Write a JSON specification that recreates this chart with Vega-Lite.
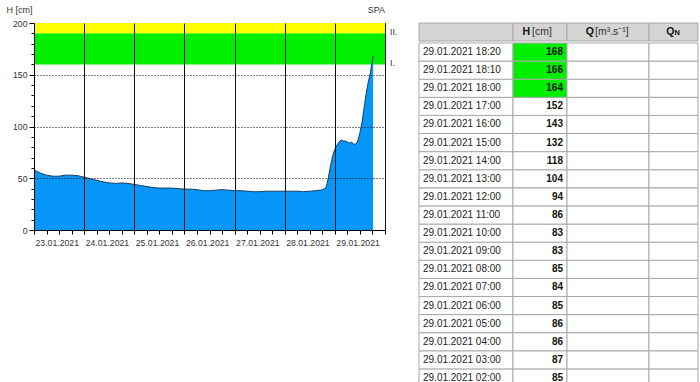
{
  "$schema": "https://vega.github.io/schema/vega-lite/v6.json",
  "padding": {"left": 5, "top": 4, "right": 0, "bottom": 0},
  "background": "#ffffff",
  "config": {"font": "Liberation Sans", "view": {"stroke": null}},
  "datasets": {
    "levels": [
      {"level": "I.", "h": 160, "h2": 190},
      {"level": "II.", "h": 190, "h2": 200}
    ],
    "series": [
      {"t": "2021-01-23T00:00", "h": 58},
      {"t": "2021-01-23T03:00", "h": 55},
      {"t": "2021-01-23T06:00", "h": 53},
      {"t": "2021-01-23T09:00", "h": 52},
      {"t": "2021-01-23T12:00", "h": 52},
      {"t": "2021-01-23T15:00", "h": 53},
      {"t": "2021-01-23T18:00", "h": 53},
      {"t": "2021-01-23T21:00", "h": 52.5},
      {"t": "2021-01-24T00:00", "h": 51},
      {"t": "2021-01-24T03:00", "h": 49.5},
      {"t": "2021-01-24T06:00", "h": 48},
      {"t": "2021-01-24T09:00", "h": 46.5},
      {"t": "2021-01-24T12:00", "h": 45.5},
      {"t": "2021-01-24T15:00", "h": 45},
      {"t": "2021-01-24T18:00", "h": 45.5},
      {"t": "2021-01-24T21:00", "h": 45},
      {"t": "2021-01-25T00:00", "h": 44},
      {"t": "2021-01-25T03:00", "h": 43},
      {"t": "2021-01-25T06:00", "h": 42},
      {"t": "2021-01-25T09:00", "h": 41},
      {"t": "2021-01-25T12:00", "h": 40.5},
      {"t": "2021-01-25T15:00", "h": 40.5},
      {"t": "2021-01-25T18:00", "h": 40.5},
      {"t": "2021-01-25T21:00", "h": 40},
      {"t": "2021-01-26T00:00", "h": 39.5},
      {"t": "2021-01-26T03:00", "h": 39.5},
      {"t": "2021-01-26T06:00", "h": 39},
      {"t": "2021-01-26T09:00", "h": 38},
      {"t": "2021-01-26T12:00", "h": 38},
      {"t": "2021-01-26T15:00", "h": 38.5},
      {"t": "2021-01-26T18:00", "h": 39},
      {"t": "2021-01-26T21:00", "h": 38.5},
      {"t": "2021-01-27T00:00", "h": 38},
      {"t": "2021-01-27T03:00", "h": 38},
      {"t": "2021-01-27T06:00", "h": 37.5},
      {"t": "2021-01-27T09:00", "h": 37},
      {"t": "2021-01-27T12:00", "h": 37},
      {"t": "2021-01-27T15:00", "h": 37.5},
      {"t": "2021-01-27T18:00", "h": 37.5},
      {"t": "2021-01-27T21:00", "h": 37.5},
      {"t": "2021-01-28T00:00", "h": 37.5},
      {"t": "2021-01-28T03:00", "h": 37.5},
      {"t": "2021-01-28T06:00", "h": 37.5},
      {"t": "2021-01-28T09:00", "h": 37},
      {"t": "2021-01-28T12:00", "h": 37.5},
      {"t": "2021-01-28T15:00", "h": 38},
      {"t": "2021-01-28T17:00", "h": 38.5},
      {"t": "2021-01-28T18:00", "h": 39},
      {"t": "2021-01-28T19:00", "h": 40},
      {"t": "2021-01-28T20:00", "h": 42},
      {"t": "2021-01-28T21:00", "h": 52},
      {"t": "2021-01-28T22:00", "h": 63},
      {"t": "2021-01-28T23:00", "h": 72},
      {"t": "2021-01-29T00:00", "h": 78},
      {"t": "2021-01-29T01:00", "h": 82},
      {"t": "2021-01-29T02:00", "h": 85},
      {"t": "2021-01-29T03:00", "h": 87},
      {"t": "2021-01-29T04:00", "h": 86},
      {"t": "2021-01-29T05:00", "h": 86},
      {"t": "2021-01-29T06:00", "h": 85},
      {"t": "2021-01-29T07:00", "h": 84},
      {"t": "2021-01-29T08:00", "h": 85},
      {"t": "2021-01-29T09:00", "h": 83},
      {"t": "2021-01-29T10:00", "h": 83},
      {"t": "2021-01-29T11:00", "h": 86},
      {"t": "2021-01-29T12:00", "h": 94},
      {"t": "2021-01-29T13:00", "h": 104},
      {"t": "2021-01-29T14:00", "h": 118},
      {"t": "2021-01-29T15:00", "h": 132},
      {"t": "2021-01-29T16:00", "h": 143},
      {"t": "2021-01-29T17:00", "h": 152},
      {"t": "2021-01-29T18:00", "h": 164},
      {"t": "2021-01-29T18:10", "h": 166},
      {"t": "2021-01-29T18:20", "h": 168}
    ]
  },
  "bounds": "flush",
  "spacing": 34,
  "hconcat": [
    {
      "width": 351,
      "height": 207,
      "view": {"stroke": "#000000", "strokeWidth": 1},
      "title": {"text": "SPA", "anchor": "end", "frame": "group", "fontSize": 9, "fontWeight": "normal", "color": "#333333", "offset": -10},
      "encoding": {
        "y": {
          "field": "h", "type": "quantitative",
          "scale": {"domain": [0, 200], "nice": false},
          "axis": {
            "title": "H [cm]", "titleAngle": 0, "titleAlign": "left", "titleBaseline": "alphabetic",
            "titleX": -28, "titleY": -11, "titleFontSize": 9, "titleFontWeight": "normal", "titleColor": "#333333",
            "values": [0, 10, 20, 30, 40, 50, 60, 70, 80, 90, 100, 110, 120, 130, 140, 150, 160, 170, 180, 190, 200],
            "labelExpr": "datum.value % 50 == 0 ? datum.label : ''",
            "labelFontSize": 8.7, "labelColor": "#333333", "labelPadding": 2, "labelFlush": false, "labelOverlap": false,
            "tickSize": {"condition": {"test": "datum.value % 50 == 0", "value": 5}, "value": 3},
            "tickColor": "#000000", "domainColor": "#000000",
            "grid": true, "gridColor": "#000000", "gridDash": [1, 2],
            "gridOpacity": {"condition": {"test": "datum.value % 50 == 0 && datum.value > 0 && datum.value < 200", "value": 1}, "value": 0},
            "zindex": 1
          }
        }
      },
      "layer": [
        {
          "data": {"name": "levels"},
          "mark": {"type": "rect"},
          "encoding": {
            "y2": {"field": "h2"},
            "color": {"field": "level", "type": "nominal", "scale": {"domain": ["I.", "II."], "range": ["#00ee00", "#ffff00"]}, "legend": null}
          }
        },
        {
          "data": {"name": "series"},
          "mark": {"type": "area", "color": "#0596f7", "opacity": 1, "line": {"color": "#173d63", "strokeWidth": 1}},
          "encoding": {
            "x": {
              "field": "t", "type": "temporal",
              "scale": {"domain": ["2021-01-23T00:00", "2021-01-30T00:00"]},
              "axis": {
                "title": null,
                "values": [
                  {"year": 2021, "month": 1, "date": 23, "hours": 0}, {"year": 2021, "month": 1, "date": 23, "hours": 6}, {"year": 2021, "month": 1, "date": 23, "hours": 12}, {"year": 2021, "month": 1, "date": 23, "hours": 18},
                  {"year": 2021, "month": 1, "date": 24, "hours": 0}, {"year": 2021, "month": 1, "date": 24, "hours": 6}, {"year": 2021, "month": 1, "date": 24, "hours": 12}, {"year": 2021, "month": 1, "date": 24, "hours": 18},
                  {"year": 2021, "month": 1, "date": 25, "hours": 0}, {"year": 2021, "month": 1, "date": 25, "hours": 6}, {"year": 2021, "month": 1, "date": 25, "hours": 12}, {"year": 2021, "month": 1, "date": 25, "hours": 18},
                  {"year": 2021, "month": 1, "date": 26, "hours": 0}, {"year": 2021, "month": 1, "date": 26, "hours": 6}, {"year": 2021, "month": 1, "date": 26, "hours": 12}, {"year": 2021, "month": 1, "date": 26, "hours": 18},
                  {"year": 2021, "month": 1, "date": 27, "hours": 0}, {"year": 2021, "month": 1, "date": 27, "hours": 6}, {"year": 2021, "month": 1, "date": 27, "hours": 12}, {"year": 2021, "month": 1, "date": 27, "hours": 18},
                  {"year": 2021, "month": 1, "date": 28, "hours": 0}, {"year": 2021, "month": 1, "date": 28, "hours": 6}, {"year": 2021, "month": 1, "date": 28, "hours": 12}, {"year": 2021, "month": 1, "date": 28, "hours": 18},
                  {"year": 2021, "month": 1, "date": 29, "hours": 0}, {"year": 2021, "month": 1, "date": 29, "hours": 6}, {"year": 2021, "month": 1, "date": 29, "hours": 12}, {"year": 2021, "month": 1, "date": 29, "hours": 18},
                  {"year": 2021, "month": 1, "date": 30, "hours": 0}
                ],
                "labelExpr": "hours(datum.value) == 0 && date(datum.value) != 30 ? timeFormat(datum.value, '%d.%m.%Y') : ''",
                "labelAlign": "left", "labelBaseline": "top", "labelPadding": 4, "labelOffset": 1,
                "labelFlush": false, "labelOverlap": false, "labelFontSize": 8.7, "labelColor": "#333333",
                "tickSize": 4, "tickColor": "#000000", "domainColor": "#000000",
                "grid": true, "gridColor": "#111111",
                "gridOpacity": {"condition": {"test": "hours(datum.value) == 0", "value": 1}, "value": 0},
                "zindex": 1
              }
            }
          }
        },
        {
          "data": {"name": "levels"},
          "mark": {"type": "text", "align": "left", "baseline": "middle", "dx": 5, "dy": -1, "fontSize": 8.7, "color": "#333333"},
          "encoding": {
            "x": {"value": "width"},
            "text": {"field": "level"}
          }
        }
      ]
    },
    {
      "spacing": 0,
      "vconcat": [
        {
          "bounds": "flush",
          "spacing": 0,
          "hconcat": [
            {
              "width": 94, "height": 18,
              "data": {"values": [{}]},
              "mark": {"type": "rect", "fill": "#d4d4d4", "stroke": "#a9a9a9"},
              "encoding": {"x": {"value": 0}, "x2": {"value": "width"}, "y": {"value": 0}, "y2": {"value": "height"}}
            },
            {
              "width": 54, "height": 18,
              "data": {"values": [{}]},
              "layer": [
                {"mark": {"type": "rect", "fill": "#d4d4d4", "stroke": "#a9a9a9"}, "encoding": {"x": {"value": 0}, "x2": {"value": "width"}, "y": {"value": 0}, "y2": {"value": "height"}}},
                {"mark": {"type": "text", "text": "H", "align": "right", "dx": -10, "fontSize": 10.5, "fontWeight": "bold", "color": "#111111"}},
                {"mark": {"type": "text", "text": "[cm]", "align": "left", "dx": -8, "fontSize": 10.5, "color": "#333333"}}
              ]
            },
            {
              "width": 82, "height": 18,
              "data": {"values": [{}]},
              "layer": [
                {"mark": {"type": "rect", "fill": "#d4d4d4", "stroke": "#a9a9a9"}, "encoding": {"x": {"value": 0}, "x2": {"value": "width"}, "y": {"value": 0}, "y2": {"value": "height"}}},
                {"mark": {"type": "text", "text": "Q", "align": "right", "dx": -14, "fontSize": 10.5, "fontWeight": "bold", "color": "#111111"}},
                {"mark": {"type": "text", "text": "[m³.s⁻¹]", "align": "left", "dx": -13, "fontSize": 10.5, "color": "#333333"}}
              ]
            },
            {
              "width": 49, "height": 18,
              "data": {"values": [{}]},
              "layer": [
                {"mark": {"type": "rect", "fill": "#d4d4d4", "stroke": "#a9a9a9"}, "encoding": {"x": {"value": 0}, "x2": {"value": "width"}, "y": {"value": 0}, "y2": {"value": "height"}}},
                {"mark": {"type": "text", "text": "Q", "align": "right", "dx": 1, "fontSize": 10.5, "fontWeight": "bold", "color": "#111111"}},
                {"mark": {"type": "text", "text": "N", "align": "left", "dx": 1, "dy": 1, "fontSize": 7.5, "fontWeight": "bold", "color": "#111111"}}
              ]
            }
          ]
        },
        {
          "bounds": "flush",
          "spacing": 0,
          "data": {"name": "series"},
          "transform": [{"filter": {"field": "t", "gte": {"year": 2021, "month": 1, "date": 29, "hours": 2}}}],
          "resolve": {"scale": {"y": "shared"}},
          "hconcat": [
            {
              "width": 94, "height": 344,
              "layer": [
                {
                  "mark": {"type": "rect", "fill": "#ffffff", "stroke": "#a9a9a9", "strokeWidth": 1},
                  "encoding": {
                    "x": {"value": 0}, "x2": {"value": "width"},
                    "y": {"field": "t", "type": "ordinal", "timeUnit": "yearmonthdatehoursminutes", "sort": "descending", "scale": {"paddingInner": 0, "paddingOuter": 0}, "axis": null}
                  }
                },
                {
                  "mark": {"type": "text", "align": "left", "baseline": "middle", "dx": -43, "fontSize": 10, "color": "#222222"},
                  "encoding": {
                    "y": {"field": "t", "type": "ordinal", "timeUnit": "yearmonthdatehoursminutes", "sort": "descending", "axis": null},
                    "text": {"field": "t", "type": "temporal", "format": "%d.%m.%Y %H:%M"}
                  }
                }
              ]
            },
            {
              "width": 54, "height": 344,
              "layer": [
                {
                  "mark": {"type": "rect", "stroke": "#a9a9a9", "strokeWidth": 1},
                  "encoding": {
                    "x": {"value": 0}, "x2": {"value": "width"},
                    "y": {"field": "t", "type": "ordinal", "timeUnit": "yearmonthdatehoursminutes", "sort": "descending", "axis": null},
                    "fill": {"condition": {"test": "datum.h >= 160", "value": "#00ee00"}, "value": "#ffffff"}
                  }
                },
                {
                  "mark": {"type": "text", "align": "right", "baseline": "middle", "dx": 23, "fontSize": 10, "fontWeight": "bold", "color": "#111111"},
                  "encoding": {
                    "y": {"field": "t", "type": "ordinal", "timeUnit": "yearmonthdatehoursminutes", "sort": "descending", "axis": null},
                    "text": {"field": "h", "type": "quantitative"}
                  }
                }
              ]
            },
            {
              "width": 82, "height": 344,
              "mark": {"type": "rect", "fill": "#ffffff", "stroke": "#a9a9a9", "strokeWidth": 1},
              "encoding": {
                "x": {"value": 0}, "x2": {"value": "width"},
                "y": {"field": "t", "type": "ordinal", "timeUnit": "yearmonthdatehoursminutes", "sort": "descending", "axis": null}
              }
            },
            {
              "width": 49, "height": 344,
              "mark": {"type": "rect", "fill": "#ffffff", "stroke": "#a9a9a9", "strokeWidth": 1},
              "encoding": {
                "x": {"value": 0}, "x2": {"value": "width"},
                "y": {"field": "t", "type": "ordinal", "timeUnit": "yearmonthdatehoursminutes", "sort": "descending", "axis": null}
              }
            }
          ]
        }
      ]
    }
  ]
}
